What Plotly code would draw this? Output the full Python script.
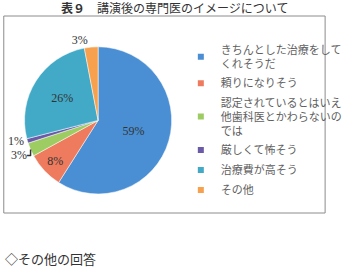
import plotly.graph_objects as go

labels = ["きちんとした治療をして<br>くれそうだ", "頼りになりそう",
          "認定されているとはいえ<br>他歯科医とかわらないの<br>では",
          "厳しくて怖そう", "治療費が高そう", "その他"]
values = [59, 8, 3, 1, 26, 3]
colors = ["#4A8FD3", "#EE7B5E", "#9DCC62", "#6A5AA8", "#42AAC7", "#F7A04D"]
positions = ["inside", "inside", "outside", "outside", "inside", "outside"]

fig = go.Figure(go.Pie(
    labels=labels, values=values, sort=False, direction="clockwise", rotation=0,
    marker=dict(colors=colors, line=dict(color="white", width=0.5)),
    texttemplate="%{value}%", textposition=positions,
    insidetextfont=dict(family="Liberation Serif", size=12, color="#333333"),
    outsidetextfont=dict(family="Liberation Serif", size=12, color="#333333"),
    domain=dict(x=[0.075, 0.525], y=[0.26, 0.845]),
    hoverinfo="skip", showlegend=False,
))

# legend entries (same labels / colours as the slices)
for i, (lab, col) in enumerate(zip(labels, colors)):
    fig.add_trace(go.Scatter(
        x=[None], y=[None], mode="markers", name=lab, legendgroup=f"g{i}",
        marker=dict(symbol="square", size=6, color=col), hoverinfo="skip",
    ))

fig.update_layout(
    width=347, height=269, margin=dict(l=0, r=0, t=0, b=0),
    paper_bgcolor="white", plot_bgcolor="white",
    xaxis=dict(visible=False), yaxis=dict(visible=False),
    showlegend=True,
    legend=dict(x=0.553, y=0.866, xanchor="left", yanchor="top",
                font=dict(family="Noto Sans CJK JP", size=11, color="#5f5f5f"),
                bgcolor="rgba(0,0,0,0)", itemwidth=30, tracegroupgap=1,
                itemsizing="trace"),
    shapes=[dict(type="rect", xref="paper", yref="paper",
                 x0=4/347, x1=345/347, y0=1-213/269, y1=1-16/269,
                 line=dict(color="#8c8c8c", width=1))],
    annotations=[
        dict(text="<b>表９</b>　講演後の専門医のイメージについて", x=63/347, y=1-8/269,
             xref="paper", yref="paper", showarrow=False, xanchor="left", yanchor="middle",
             font=dict(family="Noto Sans CJK JP", size=12, color="#333333")),
        dict(text="◇その他の回答", x=3/347, y=1-258/269, xref="paper", yref="paper",
             showarrow=False, xanchor="left", yanchor="middle",
             font=dict(family="Noto Sans CJK JP", size=13, color="#333333")),
    ],
)

fig.write_html("out.html")
